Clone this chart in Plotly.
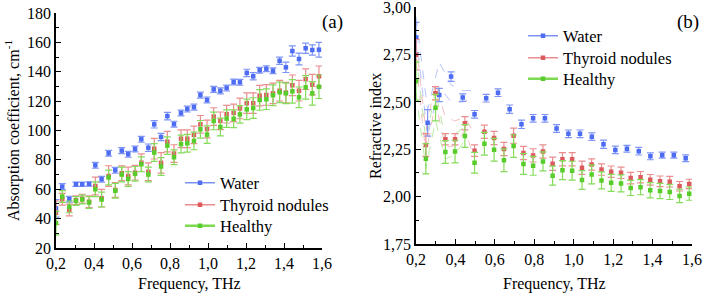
import plotly.graph_objects as go

# ---------------- data: panel (a) absorption coefficient ----------------
freq_a = [0.2, 0.233, 0.27, 0.305, 0.338, 0.374, 0.407, 0.44, 0.477, 0.512, 0.546,
          0.58, 0.616, 0.649, 0.686, 0.717, 0.753, 0.786, 0.821, 0.858, 0.891,
          0.926, 0.96, 0.995, 1.03, 1.065, 1.098, 1.135, 1.168, 1.204, 1.238,
          1.272, 1.307, 1.342, 1.377, 1.41, 1.444, 1.479, 1.514, 1.549, 1.584]
water_a = [47, 61.8, 53.2, 63.4, 63.4, 63.6, 76.3, 66.8, 84.5, 72.9, 86.3,
           83.8, 87.4, 94.0, 88.3, 104.2, 95.6, 109.8, 104.3, 111.9, 114.6,
           115.9, 124.1, 120.8, 128.0, 127.0, 128.9, 133.0, 132.8, 139.2, 136.9,
           141.0, 142.1, 140.7, 147.5, 143.0, 154.1, 148.7, 156.0, 154.8, 155.0]
water_a_err = [6, 2, 2, 1.5, 1.5, 1.5, 2, 2, 2, 2, 2,
               2, 2, 2, 2.5, 2.5, 2.5, 2.5, 2, 2, 2,
               2, 2, 2, 2, 2, 2, 2, 2, 2.5, 2.5,
               2, 2, 2, 2.5, 3.5, 3.5, 4, 3.5, 3.5, 5]
thyroid_a = [44, 53.2, 45.9, 52.5, 53.6, 51.5, 62.2, 53.9, 69.0, 59.5, 70.9,
             69.0, 71.3, 78.1, 71.9, 87.6, 78.0, 92.4, 84.3, 94.4, 94.4,
             97.0, 104.2, 101.0, 109.5, 106.6, 111.1, 112.0, 115.0, 118.6, 118.6,
             123.7, 124.2, 125.3, 127.1, 125.8, 130.8, 127.1, 134.9, 131.2, 136.9]
thyroid_a_err = [8, 4, 4, 3, 3, 4, 6, 6, 7, 5, 5,
                 6, 5, 6, 6, 7, 7, 7, 6, 6, 6,
                 6, 6, 6, 6, 6, 6, 6, 7, 7, 7,
                 7, 7, 7, 7, 7, 7, 7, 7, 7, 7]
healthy_a = [37, 55, 48, 52, 53, 51, 60, 53, 68, 59, 70,
             67, 70.5, 77, 70, 85, 75.5, 89.7, 81.8, 90.8, 91.3,
             92.9, 100.8, 97.2, 106.5, 102.4, 108.1, 108.0, 111.0, 114.4, 115.3,
             120.8, 121.3, 124.0, 126.0, 125.3, 126.7, 122.6, 129.4, 125.3, 129.8]
healthy_a_err = [8, 4, 4, 3, 3, 4, 5, 5, 5, 5, 5,
                 5, 5, 5, 5, 6, 6, 6, 5, 6, 6,
                 6, 6, 6, 6, 6, 6, 6, 6, 7, 7,
                 7, 7, 7, 7, 7, 8, 7, 8, 8, 8]

# ---------------- data: panel (b) refractive index ----------------
freq_b_water = [0.2, 0.259, 0.318, 0.378, 0.437, 0.497, 0.556, 0.616, 0.675, 0.735,
                0.794, 0.854, 0.913, 0.973, 1.032, 1.092, 1.151, 1.211, 1.27, 1.33,
                1.389, 1.449, 1.508, 1.568]
water_b = [2.84, 2.39, 2.537, 2.634, 2.523, 2.435, 2.52, 2.549, 2.462, 2.382,
           2.414, 2.414, 2.36, 2.332, 2.332, 2.317, 2.277, 2.247, 2.253, 2.24,
           2.213, 2.219, 2.219, 2.203]
water_b_err = [0.08, 0.07, 0.035, 0.025, 0.02, 0.02, 0.02, 0.02, 0.022, 0.022,
               0.02, 0.02, 0.02, 0.02, 0.02, 0.02, 0.022, 0.02, 0.018, 0.02,
               0.018, 0.016, 0.016, 0.018]
freq_b = [0.2, 0.25, 0.299, 0.349, 0.398, 0.448, 0.497, 0.547, 0.596, 0.646,
          0.695, 0.745, 0.794, 0.844, 0.893, 0.943, 0.992, 1.042, 1.091, 1.141,
          1.19, 1.24, 1.289, 1.339, 1.388, 1.438, 1.487, 1.537, 1.586]
thyroid_b = [2.75, 2.273, 2.546, 2.303, 2.303, 2.388, 2.243, 2.343, 2.31, 2.252,
             2.322, 2.231, 2.218, 2.239, 2.174, 2.198, 2.198, 2.153, 2.17, 2.143,
             2.132, 2.126, 2.098, 2.103, 2.089, 2.081, 2.079, 2.055, 2.067]
thyroid_b_err = [0.08, 0.06, 0.035, 0.03, 0.03, 0.035, 0.03, 0.035, 0.035, 0.035,
                 0.04, 0.035, 0.035, 0.035, 0.035, 0.035, 0.035, 0.035, 0.03, 0.03,
                 0.03, 0.03, 0.03, 0.03, 0.028, 0.028, 0.028, 0.025, 0.025]
healthy_b = [2.61, 2.2, 2.47, 2.236, 2.238, 2.32, 2.179, 2.279, 2.248, 2.192,
             2.267, 2.173, 2.163, 2.186, 2.111, 2.14, 2.137, 2.088, 2.117, 2.086,
             2.073, 2.07, 2.046, 2.05, 2.034, 2.03, 2.025, 2.004, 2.016]
healthy_b_err = [0.1, 0.08, 0.07, 0.06, 0.06, 0.06, 0.055, 0.06, 0.06, 0.06,
                 0.06, 0.055, 0.05, 0.05, 0.05, 0.05, 0.05, 0.05, 0.05, 0.045,
                 0.045, 0.045, 0.04, 0.04, 0.04, 0.04, 0.04, 0.035, 0.035]

# faint dashed envelope lines at the low-frequency end of panel (b)
water_env_hi = [2.95, 2.46, 2.71, 2.59, 2.56, 2.56]
water_env_lo = [2.86, 2.32, 2.58, 2.50, 2.50, 2.52]
thyroid_env_hi = [2.82, 2.35, 2.60, 2.42, 2.40, 2.42, 2.33]
thyroid_env_lo = [2.72, 2.22, 2.50, 2.26, 2.27, 2.35, 2.20]
healthy_env_hi = [2.75, 2.30, 2.56, 2.30, 2.33, 2.37]
healthy_env_lo = [2.55, 2.15, 2.40, 2.20, 2.22, 2.30]

names = ["Water", "Thyroid nodules", "Healthy"]
mk_col = ["#4d6cf2", "#dc5a5e", "#58cc2a"]
err_col = ["#7f95f5", "#eb8d8f", "#84dc5a"]
leg_col = ["#7d93f4", "#eb8d8f", "#7cd950"]
leg_w = [1.5, 1.5, 2.5]

FONT = "Liberation Serif, Times New Roman, serif"

fig = go.Figure()

def add_series(x, y, err, i, xa, ya):
    fig.add_trace(go.Scatter(
        x=x, y=y, mode="markers", xaxis=xa, yaxis=ya, showlegend=False,
        marker=dict(symbol="square", size=4.5, color=mk_col[i]),
        error_y=dict(type="data", array=err, visible=True, color=err_col[i],
                     thickness=1.2, width=3.5),
    ))

def add_env(x, hi, lo, i):
    for arr in (hi, lo):
        fig.add_trace(go.Scatter(
            x=x[:len(arr)], y=arr, mode="lines", xaxis="x2", yaxis="y2",
            showlegend=False, opacity=0.55,
            line=dict(color=err_col[i], width=1, dash="dash"),
            hoverinfo="skip",
        ))

# panel (a)
add_series(freq_a, water_a, water_a_err, 0, "x", "y")
add_series(freq_a, thyroid_a, thyroid_a_err, 1, "x", "y")
add_series(freq_a, healthy_a, healthy_a_err, 2, "x", "y")

# panel (b)
add_env(freq_b_water, water_env_hi, water_env_lo, 0)
add_env(freq_b, thyroid_env_hi, thyroid_env_lo, 1)
add_env(freq_b, healthy_env_hi, healthy_env_lo, 2)
add_series(freq_b_water, water_b, water_b_err, 0, "x2", "y2")
add_series(freq_b, thyroid_b, thyroid_b_err, 1, "x2", "y2")
add_series(freq_b, healthy_b, healthy_b_err, 2, "x2", "y2")

W, H = 703, 294

# legend entries (line + marker), one small legend per entry for exact spacing
leg_left_y = [183, 205, 226]
leg_right_y = [36, 58, 79]
legends = {}
k = 1
for panel, (lx, ys, xa, ya) in enumerate(((180, leg_left_y, "x", "y"),
                                          (523, leg_right_y, "x2", "y2"))):
    for i, n in enumerate(names):
        key = "legend" if k == 1 else f"legend{k}"
        fig.add_trace(go.Scatter(
            x=[None], y=[None], mode="lines+markers", name=n, legend=key,
            xaxis=xa, yaxis=ya,
            line=dict(color=leg_col[i], width=leg_w[i]),
            marker=dict(symbol="square", size=4.5, color=mk_col[i]),
        ))
        legends[key] = dict(x=lx / W, y=1 - ys[i] / H, xanchor="left", yanchor="middle",
                            bgcolor="rgba(0,0,0,0)", font=dict(family=FONT, size=16.5),
                            itemwidth=30)
        k += 1

axis_common = dict(
    showline=True, linecolor="black", linewidth=1.5, showgrid=False, zeroline=False,
    ticks="inside", ticklen=5, tickwidth=1.3, tickcolor="black", automargin=False,
    ticklabeloverflow="allow",
    tickfont=dict(family=FONT, size=16, color="black"),
)

fig.update_layout(
    width=W, height=H,
    margin=dict(l=0, r=0, t=0, b=0, autoexpand=False),
    paper_bgcolor="white", plot_bgcolor="white",
    separators=", ",
    font=dict(family=FONT, size=16, color="black"),
    xaxis=dict(domain=[56 / W, 322 / W], range=[0.2, 1.6], dtick=0.2, tick0=0.2,
               tickformat=".1f", anchor="y",
               minor=dict(dtick=0.1, ticks="inside", ticklen=3, tickcolor="black"),
               **axis_common),
    yaxis=dict(domain=[(H - 248) / H, (H - 13) / H], range=[20, 180], dtick=20,
               anchor="x",
               minor=dict(dtick=10, ticks="inside", ticklen=3, tickcolor="black"),
               **axis_common),
    xaxis2=dict(domain=[416 / W, 692 / W], range=[0.2, 1.6], dtick=0.2, tick0=0.2,
                tickformat=".1f", anchor="y2",
                minor=dict(dtick=0.1, ticks="inside", ticklen=3, tickcolor="black"),
                **axis_common),
    yaxis2=dict(domain=[(H - 244) / H, (H - 7.3) / H], range=[1.75, 3.0], dtick=0.25,
                tick0=1.75, tickformat=".2f", anchor="x2",
                minor=dict(dtick=0.125, ticks="inside", ticklen=3, tickcolor="black"),
                **axis_common),
    annotations=[
        dict(text="(a)", x=332 / W, y=1 - 22 / H, xref="paper", yref="paper",
             xanchor="center", yanchor="middle",
             showarrow=False, font=dict(family=FONT, size=19)),
        dict(text="(b)", x=688 / W, y=1 - 22 / H, xref="paper", yref="paper",
             xanchor="center", yanchor="middle",
             showarrow=False, font=dict(family=FONT, size=19)),
        dict(text="Frequency, THz", x=189 / W, y=1 - 284 / H, xref="paper", yref="paper",
             xanchor="center", yanchor="middle",
             showarrow=False, font=dict(family=FONT, size=16)),
        dict(text="Frequency, THz", x=554 / W, y=1 - 284 / H, xref="paper", yref="paper",
             xanchor="center", yanchor="middle",
             showarrow=False, font=dict(family=FONT, size=16)),
        dict(text="Absorption coefficient, cm<sup>-1</sup>", x=13 / W, y=1 - 131 / H,
             xref="paper", yref="paper", showarrow=False, textangle=-90,
             xanchor="center", yanchor="middle",
             font=dict(family=FONT, size=16)),
        dict(text="Refractive index", x=375 / W, y=1 - 126 / H,
             xref="paper", yref="paper", showarrow=False, textangle=-90,
             xanchor="center", yanchor="middle",
             font=dict(family=FONT, size=16)),
    ],
    **legends,
)

fig.write_html(
    "out.html",
    config={"displayModeBar": False},
    post_script="document.body.style.margin='0';document.body.style.overflow='hidden';",
)
